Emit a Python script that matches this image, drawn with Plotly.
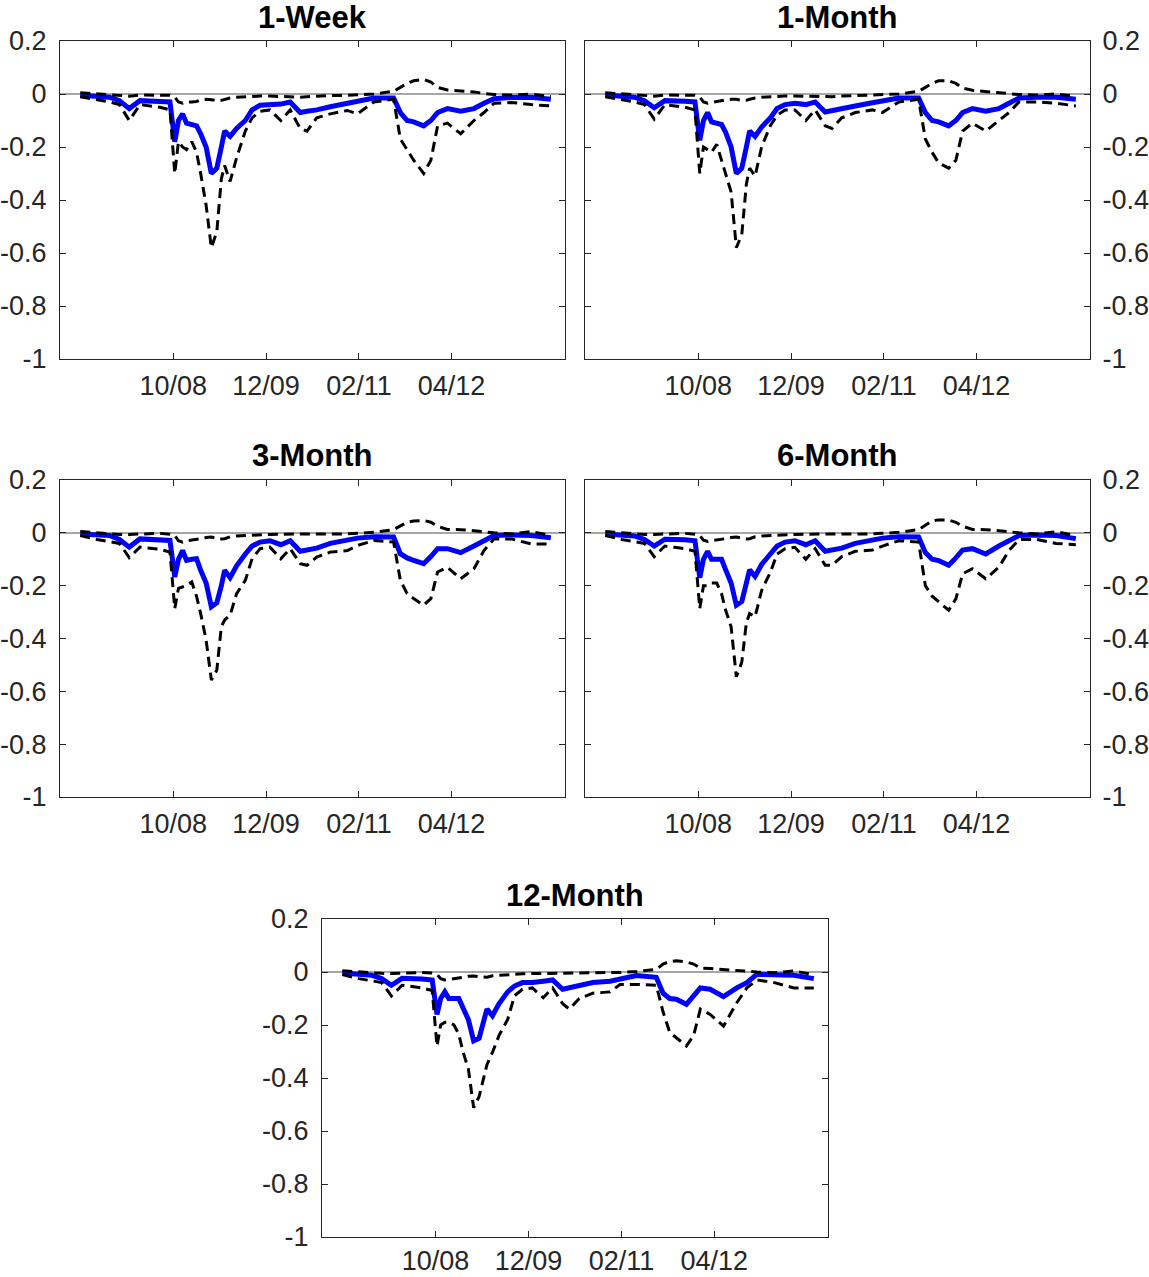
import plotly.graph_objects as go

dates = ["2007-08-01","2007-10-16","2007-12-13","2008-01-28","2008-03-13","2008-05-01","2008-06-16","2008-08-01","2008-09-16","2008-10-08",
         "2008-10-25","2008-11-13","2008-12-01","2008-12-25","2009-01-16","2009-02-04","2009-03-01","2009-03-25","2009-04-19","2009-05-10",
         "2009-05-25","2009-06-19","2009-07-19","2009-08-28","2009-09-28","2009-11-04","2009-12-19","2010-02-07","2010-03-22","2010-05-07",
         "2010-06-07","2010-07-22","2010-09-22","2010-12-10","2011-01-25","2011-04-10","2011-07-10","2011-08-10","2011-09-10","2011-10-10",
         "2011-11-25","2011-12-28","2012-01-28","2012-03-13","2012-05-13","2012-07-13","2012-08-28","2012-10-13","2013-01-01","2013-04-01",
         "2013-07-01"]

titles = ["1-Week", "1-Month", "3-Month", "6-Month", "12-Month"]

week_mid = [-0.005,-0.01,-0.012,-0.025,-0.055,-0.025,-0.025,-0.028,-0.03,-0.18,
            -0.1,-0.075,-0.11,-0.115,-0.12,-0.15,-0.2,-0.3,-0.28,-0.2,
            -0.14,-0.16,-0.13,-0.1,-0.06,-0.042,-0.04,-0.038,-0.03,-0.07,
            -0.065,-0.06,-0.048,-0.035,-0.028,-0.015,-0.015,-0.07,-0.1,-0.105,
            -0.12,-0.1,-0.07,-0.055,-0.065,-0.055,-0.035,-0.018,-0.013,-0.012,-0.02]
week_lo = [-0.01,-0.02,-0.03,-0.04,-0.1,-0.04,-0.045,-0.05,-0.06,-0.3,
           -0.18,-0.2,-0.21,-0.18,-0.22,-0.3,-0.42,-0.58,-0.52,-0.32,
           -0.27,-0.33,-0.24,-0.14,-0.09,-0.065,-0.06,-0.1,-0.06,-0.13,
           -0.14,-0.09,-0.075,-0.062,-0.075,-0.03,-0.02,-0.17,-0.21,-0.25,
           -0.3,-0.25,-0.12,-0.11,-0.15,-0.1,-0.07,-0.035,-0.032,-0.04,-0.045]
week_hi = [0.005,0.0,-0.004,-0.006,-0.008,-0.004,-0.004,-0.004,-0.005,-0.012,
           -0.03,-0.035,-0.03,-0.03,-0.028,-0.022,-0.02,-0.022,-0.025,-0.024,
           -0.02,-0.015,-0.012,-0.01,-0.009,-0.008,-0.008,-0.01,-0.01,-0.012,
           -0.01,-0.008,-0.006,-0.005,-0.004,0.0,0.01,0.025,0.04,0.05,
           0.055,0.045,0.025,0.015,0.012,0.008,0.002,-0.002,-0.004,0.0,-0.01]

m1_mid = [-0.004,-0.008,-0.012,-0.025,-0.052,-0.025,-0.024,-0.027,-0.03,-0.175,
          -0.1,-0.07,-0.105,-0.11,-0.115,-0.145,-0.2,-0.3,-0.28,-0.2,
          -0.14,-0.16,-0.125,-0.09,-0.055,-0.04,-0.035,-0.04,-0.03,-0.068,
          -0.062,-0.058,-0.045,-0.033,-0.025,-0.015,-0.015,-0.07,-0.1,-0.105,
          -0.12,-0.1,-0.07,-0.055,-0.065,-0.055,-0.035,-0.015,-0.012,-0.012,-0.02]
m1_lo = [-0.01,-0.02,-0.03,-0.04,-0.095,-0.04,-0.045,-0.05,-0.06,-0.3,
         -0.2,-0.21,-0.22,-0.19,-0.25,-0.3,-0.37,-0.58,-0.53,-0.34,
         -0.28,-0.31,-0.2,-0.12,-0.08,-0.06,-0.06,-0.1,-0.06,-0.12,
         -0.13,-0.09,-0.07,-0.06,-0.07,-0.03,-0.02,-0.17,-0.22,-0.26,
         -0.28,-0.25,-0.14,-0.11,-0.14,-0.1,-0.07,-0.03,-0.03,-0.035,-0.045]
m1_hi = [0.005,0.0,-0.004,-0.006,-0.008,-0.004,-0.004,-0.004,-0.005,-0.012,
         -0.03,-0.035,-0.032,-0.03,-0.027,-0.022,-0.02,-0.02,-0.024,-0.024,
         -0.02,-0.015,-0.012,-0.01,-0.009,-0.008,-0.008,-0.009,-0.01,-0.011,
         -0.01,-0.008,-0.006,-0.005,-0.004,0.0,0.01,0.025,0.04,0.05,
         0.05,0.04,0.022,0.014,0.01,0.006,0.002,-0.002,-0.004,0.0,-0.008]

m3_mid = [-0.004,-0.008,-0.01,-0.025,-0.054,-0.023,-0.024,-0.026,-0.029,-0.167,
          -0.1,-0.067,-0.104,-0.1,-0.098,-0.142,-0.19,-0.28,-0.265,-0.2,
          -0.142,-0.17,-0.125,-0.08,-0.05,-0.035,-0.03,-0.045,-0.03,-0.07,
          -0.065,-0.058,-0.04,-0.028,-0.02,-0.015,-0.016,-0.079,-0.095,-0.104,
          -0.117,-0.09,-0.06,-0.06,-0.075,-0.05,-0.03,-0.01,-0.008,-0.01,-0.019]
m3_lo = [-0.01,-0.025,-0.033,-0.04,-0.094,-0.054,-0.058,-0.062,-0.073,-0.287,
         -0.21,-0.205,-0.2,-0.186,-0.24,-0.306,-0.406,-0.557,-0.52,-0.355,
         -0.33,-0.312,-0.23,-0.18,-0.098,-0.06,-0.054,-0.098,-0.06,-0.117,
         -0.123,-0.092,-0.073,-0.067,-0.048,-0.029,-0.035,-0.18,-0.23,-0.249,
         -0.274,-0.249,-0.148,-0.13,-0.174,-0.136,-0.067,-0.023,-0.023,-0.042,-0.042]
m3_hi = [0.005,0.0,-0.004,-0.006,-0.006,-0.004,-0.003,-0.002,-0.005,-0.01,
         -0.03,-0.035,-0.03,-0.028,-0.026,-0.022,-0.018,-0.016,-0.02,-0.023,
         -0.022,-0.015,-0.012,-0.01,-0.009,-0.007,-0.006,-0.005,-0.005,-0.004,
         -0.004,-0.004,-0.004,-0.004,-0.002,0.002,0.012,0.025,0.04,0.045,
         0.047,0.04,0.025,0.013,0.012,0.008,0.003,0.0,-0.004,0.005,-0.01]

m6_mid = [-0.004,-0.008,-0.012,-0.025,-0.05,-0.024,-0.024,-0.026,-0.03,-0.17,
          -0.1,-0.07,-0.1,-0.1,-0.1,-0.14,-0.19,-0.274,-0.26,-0.19,
          -0.14,-0.165,-0.12,-0.08,-0.05,-0.035,-0.03,-0.045,-0.03,-0.07,
          -0.065,-0.058,-0.04,-0.028,-0.02,-0.015,-0.016,-0.075,-0.1,-0.105,
          -0.123,-0.095,-0.065,-0.06,-0.08,-0.05,-0.03,-0.01,-0.008,-0.01,-0.022]
m6_lo = [-0.01,-0.025,-0.033,-0.04,-0.09,-0.05,-0.055,-0.06,-0.07,-0.287,
         -0.2,-0.2,-0.19,-0.19,-0.23,-0.293,-0.356,-0.545,-0.49,-0.34,
         -0.305,-0.318,-0.218,-0.15,-0.08,-0.06,-0.055,-0.1,-0.06,-0.123,
         -0.123,-0.09,-0.07,-0.065,-0.05,-0.03,-0.035,-0.2,-0.24,-0.26,
         -0.293,-0.25,-0.155,-0.136,-0.174,-0.13,-0.067,-0.025,-0.025,-0.04,-0.045]
m6_hi = [0.005,0.0,-0.004,-0.006,-0.006,-0.004,-0.003,-0.002,-0.005,-0.01,
         -0.028,-0.033,-0.03,-0.028,-0.026,-0.022,-0.018,-0.016,-0.02,-0.023,
         -0.022,-0.015,-0.012,-0.01,-0.009,-0.007,-0.006,-0.005,-0.005,-0.004,
         -0.004,-0.004,-0.004,-0.004,-0.002,0.002,0.012,0.03,0.045,0.049,
         0.048,0.04,0.025,0.013,0.012,0.008,0.003,0.0,-0.004,0.004,-0.01]

m12_mid = [-0.004,-0.008,-0.012,-0.025,-0.05,-0.024,-0.024,-0.026,-0.03,-0.16,
           -0.1,-0.075,-0.1,-0.1,-0.1,-0.135,-0.18,-0.26,-0.25,-0.185,
           -0.14,-0.165,-0.12,-0.075,-0.053,-0.04,-0.04,-0.035,-0.03,-0.065,
           -0.06,-0.05,-0.04,-0.035,-0.025,-0.013,-0.02,-0.08,-0.1,-0.103,
           -0.122,-0.09,-0.06,-0.065,-0.093,-0.06,-0.04,-0.009,-0.01,-0.012,-0.025]
m12_lo = [-0.01,-0.025,-0.033,-0.04,-0.09,-0.05,-0.055,-0.06,-0.07,-0.28,
          -0.2,-0.19,-0.19,-0.2,-0.235,-0.3,-0.367,-0.512,-0.47,-0.405,
          -0.35,-0.304,-0.24,-0.179,-0.09,-0.065,-0.06,-0.097,-0.06,-0.12,
          -0.14,-0.1,-0.08,-0.075,-0.047,-0.047,-0.05,-0.15,-0.229,-0.248,
          -0.279,-0.24,-0.14,-0.16,-0.204,-0.116,-0.06,-0.03,-0.04,-0.06,-0.06]
m12_hi = [0.005,0.002,-0.003,-0.005,-0.006,-0.004,-0.003,-0.002,-0.004,-0.01,
          -0.025,-0.03,-0.028,-0.026,-0.024,-0.02,-0.016,-0.015,-0.018,-0.02,
          -0.02,-0.014,-0.012,-0.01,-0.008,-0.007,-0.006,-0.005,-0.005,-0.004,
          -0.004,-0.004,-0.003,-0.002,-0.002,0.002,0.01,0.03,0.04,0.042,
          0.038,0.03,0.015,0.013,0.01,0.008,0.003,0.0,-0.003,0.004,-0.01]

x_tickvals = ["2008-10-01", "2009-12-01", "2011-02-01", "2012-04-01"]
x_ticktext = ["10/08", "12/09", "02/11", "04/12"]
y_tickvals = [-1, -0.8, -0.6, -0.4, -0.2, 0, 0.2]
y_ticktext = ["-1", "-0.8", "-0.6", "-0.4", "-0.2", "0", "0.2"]

panels = [
    (week_mid, week_lo, week_hi),
    (m1_mid, m1_lo, m1_hi),
    (m3_mid, m3_lo, m3_hi),
    (m6_mid, m6_lo, m6_hi),
    (m12_mid, m12_lo, m12_hi),
]

W, H = 1149, 1277
# pixel boxes: (left, right, top, bottom)
boxes = [(60, 565, 41, 359), (585, 1090, 41, 359),
         (60, 565, 480, 797), (585, 1090, 480, 797),
         (322, 828, 919, 1237)]
yside = ["left", "right", "left", "right", "left"]
xstand = [3, 3, 3, 3, 0]

FONT = "Liberation Sans, Arial, Helvetica, sans-serif"
AX = "#262626"

fig = go.Figure()
layout = dict(width=W, height=H, margin=dict(l=0, r=0, t=0, b=0, autoexpand=False),
              paper_bgcolor="white", plot_bgcolor="white", showlegend=False,
              font=dict(family=FONT, color=AX))
annotations = []
for i, ((mid, lo, hi), (l, r, t, b)) in enumerate(zip(panels, boxes)):
    n = "" if i == 0 else str(i + 1)
    xa, ya = "x" + n, "y" + n
    fig.add_trace(go.Scatter(x=dates, y=mid, mode="lines", xaxis=xa, yaxis=ya,
                             line=dict(color="#0000ff", width=5)))
    fig.add_trace(go.Scatter(x=dates, y=lo, mode="lines", xaxis=xa, yaxis=ya,
                             line=dict(color="black", width=3, dash="10px,6px")))
    fig.add_trace(go.Scatter(x=dates, y=hi, mode="lines", xaxis=xa, yaxis=ya,
                             line=dict(color="black", width=3, dash="10px,6px")))
    layout["xaxis" + n] = dict(
        domain=[l / W, r / W], anchor=ya, type="date", automargin=False,
        range=["2007-04-30", "2013-09-04"],
        tickmode="array", tickvals=x_tickvals, ticktext=x_ticktext,
        ticks="inside", ticklen=6, tickcolor=AX, mirror="ticks",
        showline=True, linecolor=AX, linewidth=1, showgrid=False, zeroline=False,
        tickfont=dict(size=27, color=AX, family=FONT), ticklabelstandoff=xstand[i])
    layout["yaxis" + n] = dict(
        domain=[1 - b / H, 1 - t / H], anchor=xa, side=yside[i], automargin=False,
        range=[-1, 0.2], tickmode="array", tickvals=y_tickvals, ticktext=y_ticktext,
        ticks="inside", ticklen=6, tickcolor=AX, mirror="ticks",
        showline=True, linecolor=AX, linewidth=1, showgrid=False,
        zeroline=True, zerolinecolor="#a6a6a6", zerolinewidth=1.5,
        tickfont=dict(size=27, color=AX, family=FONT),
        ticklabelstandoff=7 if yside[i] == "left" else 6)
    annotations.append(dict(text="<b>" + titles[i] + "</b>", xref="paper", yref="paper",
                            x=(l + r) / 2 / W, y=1 - (t - 24) / H, xanchor="center", yanchor="middle",
                            showarrow=False, font=dict(size=31, color="black", family=FONT)))
layout["annotations"] = annotations
fig.update_layout(**layout)
fig.write_html("out.html")
